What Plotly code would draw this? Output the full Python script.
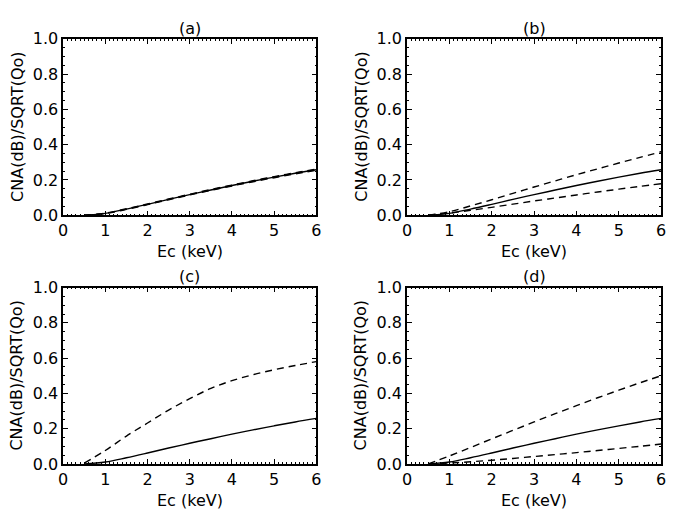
import plotly.graph_objects as go

# ---- data ----
ec_kev = [0.5, 1.0, 1.5, 2.0, 2.5, 3.0, 3.5, 4.0, 4.5, 5.0, 5.5, 6.0]
panel_labels = ["(a)", "(b)", "(c)", "(d)"]

solid = [0.0, 0.011, 0.035, 0.062, 0.090, 0.117, 0.143, 0.169, 0.193, 0.216, 0.238, 0.258]

a_upper = [0.0, 0.012, 0.037, 0.064, 0.092, 0.119, 0.146, 0.171, 0.196, 0.219, 0.241, 0.262]
a_lower = [0.0, 0.010, 0.033, 0.060, 0.088, 0.115, 0.141, 0.166, 0.190, 0.213, 0.235, 0.255]

b_upper = [0.0, 0.020, 0.053, 0.088, 0.124, 0.160, 0.195, 0.230, 0.263, 0.296, 0.328, 0.360]
b_lower = [0.0, 0.012, 0.028, 0.045, 0.063, 0.081, 0.098, 0.115, 0.132, 0.148, 0.164, 0.179]

c_upper = [0.005, 0.076, 0.158, 0.232, 0.305, 0.370, 0.428, 0.472, 0.506, 0.534, 0.558, 0.580]

d_upper = [0.0, 0.045, 0.093, 0.142, 0.190, 0.238, 0.285, 0.330, 0.375, 0.418, 0.460, 0.500]
d_lower = [0.0, 0.005, 0.012, 0.021, 0.031, 0.042, 0.053, 0.064, 0.076, 0.088, 0.100, 0.113]

dashed_sets = [[a_upper, a_lower], [b_upper, b_lower], [c_upper], [d_upper, d_lower]]

x_ticks = [0, 1, 2, 3, 4, 5, 6]
y_ticks = [0.0, 0.2, 0.4, 0.6, 0.8, 1.0]
y_ticklabels = ["0.0", "0.2", "0.4", "0.6", "0.8", "1.0"]

# ---- layout geometry ----
W, H = 678, 525
x_domains = [[59 / W, 316 / W], [408 / W, 666 / W], [59 / W, 316 / W], [408 / W, 666 / W]]
y_domains = [[311 / H, 494 / H], [311 / H, 494 / H], [53 / H, 236 / H], [53 / H, 236 / H]]

FONT = "DejaVu Sans"
FS = 16
fig = go.Figure()
layout = dict(
    width=W, height=H, margin=dict(l=0, r=0, t=0, b=0),
    paper_bgcolor="white", plot_bgcolor="white", showlegend=False,
    font=dict(family=FONT, size=FS, color="black"),
)
annotations = []

for i in range(4):
    suffix = "" if i == 0 else str(i + 1)
    xa, ya = "x" + suffix, "y" + suffix
    fig.add_trace(go.Scatter(x=ec_kev, y=solid, mode="lines", xaxis=xa, yaxis=ya,
                             line=dict(color="black", width=1.4, shape="spline")))
    for ds in dashed_sets[i]:
        fig.add_trace(go.Scatter(x=ec_kev, y=ds, mode="lines", xaxis=xa, yaxis=ya,
                                 line=dict(color="black", width=1.4, dash="7px,5px", shape="spline")))
    layout["xaxis" + suffix] = dict(
        domain=x_domains[i], anchor=ya, range=[0, 6], tickvals=x_ticks,
        ticks="inside", ticklen=5, tickwidth=1, tickcolor="black",
        showline=True, linecolor="black", linewidth=1.5, mirror="allticks",
        showgrid=False, zeroline=False, tickfont=dict(size=FS, family=FONT),
        minor=dict(dtick=0.1, ticks="inside", ticklen=2, tickcolor="black", showgrid=False),
    )
    layout["yaxis" + suffix] = dict(
        domain=y_domains[i], anchor=xa, range=[0, 1], tickvals=y_ticks, ticktext=y_ticklabels,
        ticks="inside", ticklen=5, tickwidth=1, tickcolor="black",
        showline=True, linecolor="black", linewidth=1.5, mirror="allticks",
        showgrid=False, zeroline=False, tickfont=dict(size=FS, family=FONT),
        minor=dict(dtick=0.05, ticks="inside", ticklen=2, tickcolor="black", showgrid=False),
    )
    xc = (x_domains[i][0] + x_domains[i][1]) / 2
    yc = (y_domains[i][0] + y_domains[i][1]) / 2
    top = y_domains[i][1]
    bot = y_domains[i][0]
    annotations.append(dict(text=panel_labels[i], x=xc, y=top + 11 / H, xref="paper", yref="paper",
                            showarrow=False, xanchor="center", yanchor="middle",
                            font=dict(size=FS, family=FONT)))
    annotations.append(dict(text="Ec (keV)", x=xc, y=bot - 38 / H, xref="paper", yref="paper",
                            showarrow=False, xanchor="center", yanchor="middle",
                            font=dict(size=FS, family=FONT)))
    annotations.append(dict(text="CNA(dB)/SQRT(Qo)", x=x_domains[i][0] - 47 / W, y=yc,
                            xref="paper", yref="paper", textangle=-90,
                            showarrow=False, xanchor="center", yanchor="middle",
                            font=dict(size=FS, family=FONT)))

layout["annotations"] = annotations
fig.update_layout(**layout)
fig.write_html("out.html")
